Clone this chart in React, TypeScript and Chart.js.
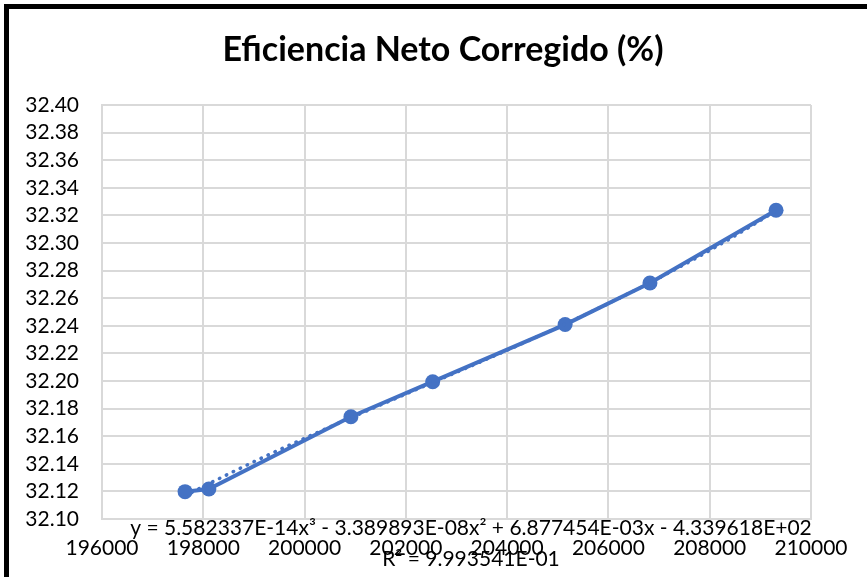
import React, { useEffect, useRef } from "react";
import { Chart, registerables } from "chart.js";

Chart.register(...registerables);

const TITLE = "Eficiencia Neto Corregido (%)";
const X_VALUES = [197640, 198110, 200915, 202530, 205145, 206820, 209310];
const Y_VALUES = [32.1198, 32.1217, 32.1741, 32.1995, 32.2409, 32.271, 32.3237];
const X_MIN = 196000;
const X_MAX = 210000;
const X_STEP = 2000;
const Y_MIN = 32.1;
const Y_MAX = 32.4;
const Y_STEP = 0.02;
const TREND_EQUATION = "y = 5.582337E-14x³ - 3.389893E-08x² + 6.877454E-03x - 4.339618E+02";
const TREND_R2 = "R² = 9.993541E-01";
const TREND_DEGREE = 3;

const FONT = "Lato, 'Liberation Sans', sans-serif";
const BLUE = "#4472C4";
const GRID = "#d9d9d9";

// least-squares polynomial fit (the trendline Excel draws)
function polyFit(xs: number[], ys: number[], deg: number) {
  const mean = xs.reduce((a, b) => a + b, 0) / xs.length;
  const sc = 1000;
  const ts = xs.map((x) => (x - mean) / sc);
  const n = deg + 1;
  const A: number[][] = [];
  for (let i = 0; i < n; i++) {
    A.push(new Array(n + 1).fill(0));
  }
  for (let k = 0; k < ts.length; k++) {
    for (let i = 0; i < n; i++) {
      for (let j = 0; j < n; j++) A[i][j] += Math.pow(ts[k], i + j);
      A[i][n] += ys[k] * Math.pow(ts[k], i);
    }
  }
  for (let c = 0; c < n; c++) {
    let p = c;
    for (let r = c + 1; r < n; r++) if (Math.abs(A[r][c]) > Math.abs(A[p][c])) p = r;
    [A[c], A[p]] = [A[p], A[c]];
    for (let r = 0; r < n; r++) {
      if (r === c) continue;
      const f = A[r][c] / A[c][c];
      for (let j = c; j <= n; j++) A[r][j] -= f * A[c][j];
    }
  }
  const coef = A.map((row, i) => row[n] / row[i]);
  return (x: number) => {
    const t = (x - mean) / sc;
    let s = 0;
    for (let i = n - 1; i >= 0; i--) s = s * t + coef[i];
    return s;
  };
}

const textPlugin = {
  id: "textPlugin",
  afterDraw(chart: any) {
    const ctx = chart.ctx;
    ctx.save();
    ctx.fillStyle = "#000";
    ctx.textAlign = "center";
    ctx.textBaseline = "middle";
    ctx.font = `bold 34px ${FONT}`;
    ctx.fillText(TITLE, 443, 50);
    ctx.font = `21px ${FONT}`;
    ctx.fillText(TREND_EQUATION, 471, 528);
    ctx.fillText(TREND_R2, 471, 559);
    ctx.restore();
  },
};

export default function App() {
  const ref = useRef<HTMLCanvasElement | null>(null);
  useEffect(() => {
    document.body.style.margin = "0";
    const f = polyFit(X_VALUES, Y_VALUES, TREND_DEGREE);
    const lo = Math.min(...X_VALUES);
    const hi = Math.max(...X_VALUES);
    const trend: { x: number; y: number }[] = [];
    const N = 150;
    for (let i = 0; i <= N; i++) {
      const x = lo + ((hi - lo) * i) / N;
      trend.push({ x, y: f(x) });
    }
    const chart = new Chart(ref.current as HTMLCanvasElement, {
      type: "scatter",
      data: {
        datasets: [
          {
            label: "Tendencia",
            data: trend,
            showLine: true,
            borderColor: BLUE,
            borderWidth: 3.5,
            borderDash: [0.5, 7.2],
            borderCapStyle: "round",
            pointRadius: 0,
            order: 0,
          } as any,
          {
            label: TITLE,
            data: X_VALUES.map((x, i) => ({ x, y: Y_VALUES[i] })),
            showLine: true,
            borderColor: BLUE,
            backgroundColor: BLUE,
            borderWidth: 4,
            pointRadius: 7.5,
            pointBorderWidth: 0,
            order: 1,
          } as any,
        ],
      },
      options: {
        responsive: false,
        animation: false,
        layout: { padding: { left: 0, right: 56, top: 105, bottom: 0 } },
        plugins: {
          legend: { display: false },
          title: { display: false },
          tooltip: { enabled: false },
        },
        scales: {
          x: {
            type: "linear",
            min: X_MIN,
            max: X_MAX,
            grid: { color: GRID, lineWidth: 2, drawTicks: false },
            border: { color: GRID, width: 2 },
            ticks: {
              stepSize: X_STEP,
              autoSkip: false,
              maxRotation: 0,
              padding: 17,
              color: "#000",
              font: { family: FONT, size: 21 },
              callback: (v: any) => String(v),
            },
            afterFit: (s: any) => {
              s.height = 58;
            },
          },
          y: {
            type: "linear",
            min: Y_MIN,
            max: Y_MAX,
            grid: { color: GRID, lineWidth: 2, drawTicks: false },
            border: { color: GRID, width: 2 },
            ticks: {
              stepSize: Y_STEP,
              autoSkip: false,
              padding: 23,
              color: "#000",
              font: { family: FONT, size: 21 },
              callback: (v: any) => Number(v).toFixed(2),
            },
            afterFit: (s: any) => {
              s.width = 102;
            },
          },
        },
      } as any,
      plugins: [textPlugin],
    });
    return () => chart.destroy();
  }, []);
  return (
    <div style={{ position: "relative", width: 867, height: 577, overflow: "hidden", background: "#fff" }}>
      <canvas ref={ref} width={867} height={577} style={{ display: "block" }} />
      <div
        style={{
          position: "absolute",
          left: 4,
          top: 4,
          width: 900,
          height: 600,
          borderLeft: "5px solid #000",
          borderTop: "5px solid #000",
          pointerEvents: "none",
        }}
      />
    </div>
  );
}
